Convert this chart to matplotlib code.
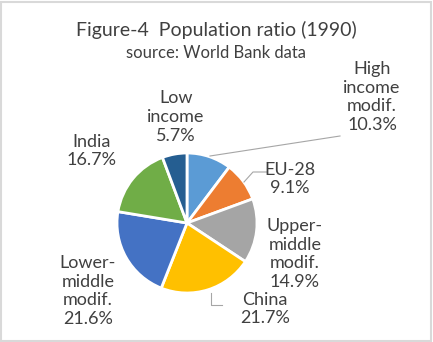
import matplotlib.pyplot as plt
from matplotlib.patches import Rectangle

plt.rcParams['font.family'] = ['Lato', 'DejaVu Sans']

# population shares, clockwise from 12 o'clock
labels = ['High\nincome\nmodif.', 'EU-28', 'Upper-\nmiddle\nmodif.', 'China',
          'Lower-\nmiddle\nmodif.', 'India', 'Low\nincome']
shares = [10.3, 9.1, 14.9, 21.7, 21.6, 16.7, 5.7]
colors = ['#5B9BD5', '#ED7D31', '#A5A5A5', '#FFC000', '#4472C4', '#70AD47', '#255E91']

W, H = 433, 342
fig = plt.figure(figsize=(W / 100, H / 100), dpi=100)
ax = fig.add_axes([0, 0, 1, 1])

cx, cy, r = 187, H - 223, 70
ax.pie(shares, colors=colors, startangle=90, counterclock=False,
       center=(cx, cy), radius=r, frame=True,
       wedgeprops=dict(edgecolor='white', linewidth=2))
ax.set_xlim(0, W)
ax.set_ylim(0, H)
ax.set_aspect('equal')
ax.axis('off')

# label centres in pixel coords (x, y from top)
pos = [(372, 97), (290, 179), (295, 254), (265, 309), (88, 291), (92, 151), (176, 117)]
for lab, s, (x, y) in zip(labels, shares, pos):
    ax.text(x, H - y, '%s\n%.1f%%' % (lab, s), ha='center', va='center',
            fontsize=13, color='#404040', linespacing=1.2)

# leader lines
gray = '#A6A6A6'
ax.plot([340, 210], [H - 136, H - 156], color=gray, lw=0.8)
ax.plot([267, 253, 244], [H - 172, H - 172, H - 182], color=gray, lw=0.8)
ax.plot([211, 211, 222], [H - 293, H - 305, H - 305], color=gray, lw=0.8)

fig.text(0.5, 1 - 30 / H, 'Figure-4  Population ratio (1990)', ha='center', va='center',
         fontsize=14, color='#404040')
fig.text(0.5, 1 - 53 / H, 'source: World Bank data', ha='center', va='center',
         fontsize=12, color='#404040')

fig.add_artist(Rectangle((0.003, 0.004), 0.992, 0.99, transform=fig.transFigure,
                         fill=False, edgecolor='#D9D9D9', lw=1.5))

fig.savefig('out.png', dpi=100)
